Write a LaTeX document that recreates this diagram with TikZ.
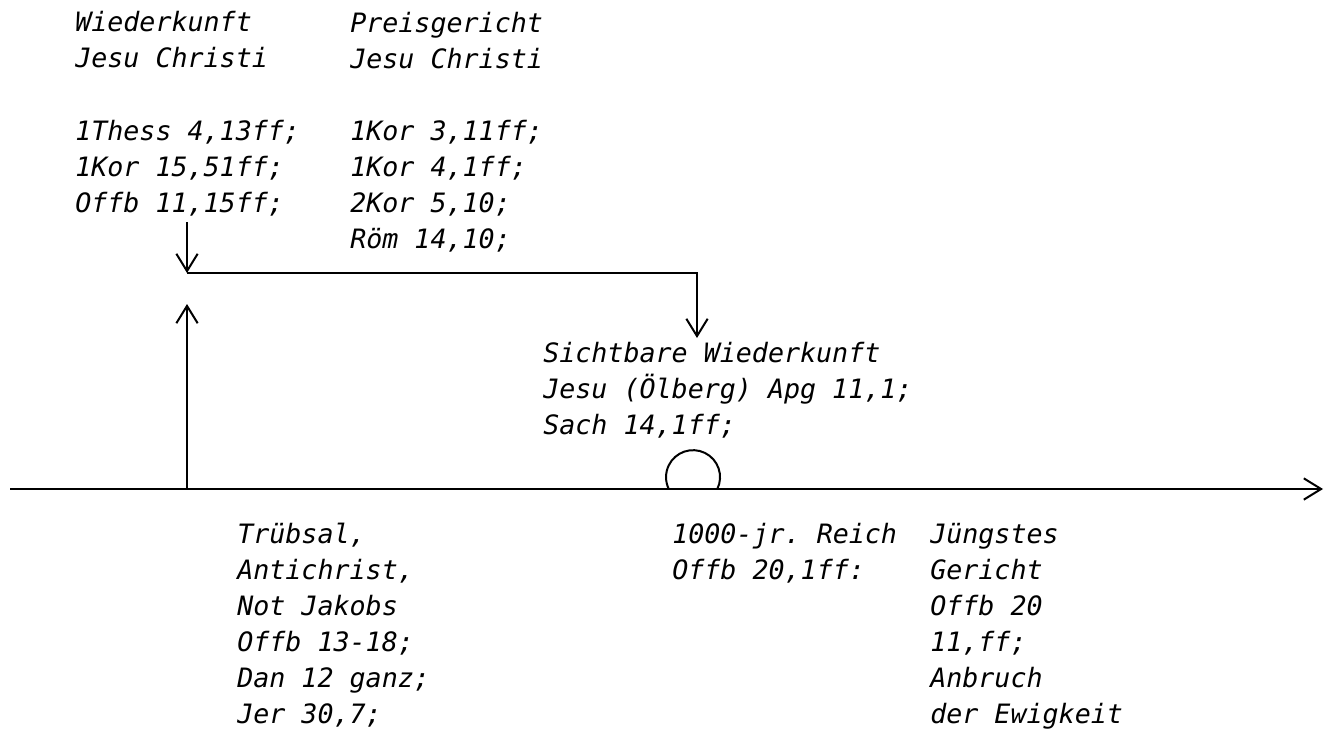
\documentclass[tikz,border=0pt]{standalone}
\usepackage{fontspec}
\setmonofont{DejaVu Sans Mono}
\usetikzlibrary{arrows.meta}
\begin{document}
\begin{tikzpicture}[x=0.75pt,y=-0.75pt,
  lbl/.style={anchor=base west,inner sep=0pt,align=left,
    font=\ttfamily\itshape\fontsize{20}{27}\selectfont},
  ln/.style={line width=1.5pt},
  arr/.style={ln,-{Straight Barb[length=13pt,width=16pt,line width=1.5pt]}}]
\useasboundingbox (0,0) rectangle (1333,731);
% texts (anchored at the baseline of their last line)
\node[lbl] (wk) at (75,212) {Wiederkunft\\Jesu Christi\\[27pt]1Thess 4,13ff;\\1Kor 15,51ff;\\Offb 11,15ff;};
\node[lbl] (pg) at (350,248) {Preisgericht\\Jesu Christi\\[27pt]1Kor 3,11ff;\\1Kor 4,1ff;\\2Kor 5,10;\\Röm 14,10;};
\node[lbl] (sw) at (543,434) {Sichtbare Wiederkunft\\Jesu (Ölberg) Apg 11,1;\\Sach 14,1ff;};
\node[lbl] (tr) at (237,723) {Trübsal,\\Antichrist,\\Not Jakobs\\Offb 13-18;\\Dan 12 ganz;\\Jer 30,7;};
\node[lbl] (tr2) at (672,579) {1000-jr. Reich\\Offb 20,1ff:};
\node[lbl] (jg) at (930,723) {Jüngstes\\Gericht\\Offb 20\\11,ff;\\Anbruch\\der Ewigkeit};
% coordinates
\coordinate (tl0) at (10,489);
\coordinate (tl1) at (1323,489);
\coordinate (rb) at (187,489);
\coordinate (ru) at (187,304);
\coordinate (d0) at (187,222);
\coordinate (d1) at (187,273);
\coordinate (c1) at (697,273);
\coordinate (c2) at (697,338);
% timeline
\draw[arr] (tl0) -- (tl1);
\draw[arr] (rb) -- (ru);
\draw[arr] (d0) -- (d1);
\draw[arr] (d1) -- (c1) -- (c2);
% hill
\draw[ln] (717.3,489) arc[start angle=26,end angle=-206,radius=27];
\end{tikzpicture}
\end{document}
